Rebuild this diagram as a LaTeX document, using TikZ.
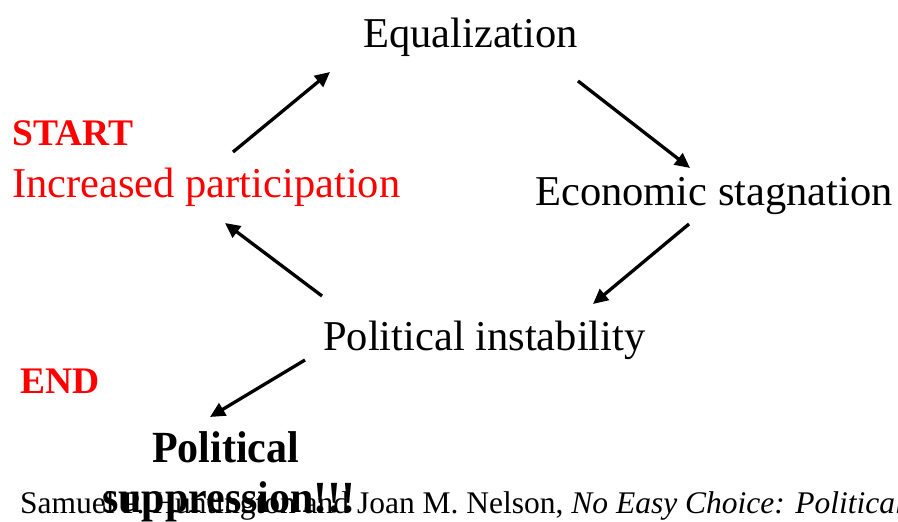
\documentclass[tikz,border=0pt]{standalone}
\usepackage{fontspec}
\setmainfont{Liberation Serif}
\usetikzlibrary{arrows.meta}
\definecolor{startred}{RGB}{255,0,0}
\begin{document}
\begin{tikzpicture}[x=1pt,y=-1pt,
  label/.style={anchor=base west,inner sep=0pt,font=\fontsize{42.5}{42.5}\selectfont},
  tag/.style={anchor=base west,inner sep=0pt,text=startred,font=\fontsize{37.5}{37.5}\selectfont\bfseries},
  outcome/.style={anchor=base west,inner sep=0pt,yscale=1.06,font=\fontsize{42}{42}\selectfont\bfseries},
  flow/.style={line width=3.3pt,-{Triangle[length=15pt,width=14pt]}}]
\useasboundingbox (0,0) rectangle (898,522);
\fill[white] (0,0) rectangle (898,522);

% cycle stages
\node[label] (equal) at (363,47) {Equalization};
\node[label,text=startred] (part) at (12,197) {Increased participation};
\node[label] (stag) at (535,205) {Economic stagnation};
\node[label] (inst) at (323,350) {Political instability};

% start / end markers
\node[tag] (start) at (12,145) {START};
\node[tag] (end) at (20,393) {END};

% citation (runs off the right edge)
\node[anchor=base west,inner sep=0pt,font=\fontsize{31.5}{31.5}\selectfont] (cite) at (20,513)
  {Samuel P. Huntington and Joan M. Nelson, \textit{No Easy Choice: Political Participation in Developing Countries}};

% final outcome
\node[outcome] (supp1) at (152,462) {Political};
\node[outcome] (supp2) at (102,512) {suppression!!!};

% arrow end points
\coordinate (p1) at (233,152); \coordinate (q1) at (330,72);
\coordinate (p2) at (578,81);  \coordinate (q2) at (690,168);
\coordinate (p3) at (689,224); \coordinate (q3) at (593,304);
\coordinate (p4) at (322,296); \coordinate (q4) at (225,223);
\coordinate (p5) at (305,360); \coordinate (q5) at (210,417);

\draw[flow] (p1) -- (q1);
\draw[flow] (p2) -- (q2);
\draw[flow] (p3) -- (q3);
\draw[flow] (p4) -- (q4);
\draw[flow] (p5) -- (q5);
\end{tikzpicture}
\end{document}
